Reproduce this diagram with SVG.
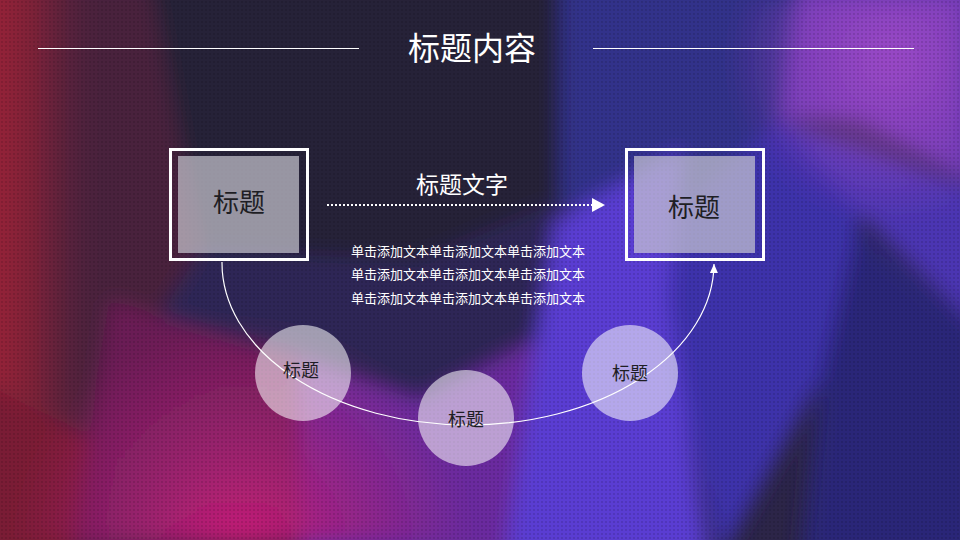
<svg xmlns="http://www.w3.org/2000/svg" width="960" height="540" viewBox="0 0 960 540">
<defs>
<style>
.cjk{font-family:"Noto Sans CJK SC","Microsoft YaHei",sans-serif;}
.wt{fill:#ffffff;}
.dk{fill:#1e1e24;}
.frame{fill:none;stroke:#ffffff;stroke-width:3;}
.inner{fill:#cfcdd6;fill-opacity:0.68;}
.bubble{fill:#ffffff;fill-opacity:0.55;}
.rule{stroke:#ffffff;stroke-width:1;}
</style>
<filter id="soft" x="-10%" y="-10%" width="120%" height="120%"><feGaussianBlur stdDeviation="10"/></filter>
<pattern id="dots" width="4" height="4" patternUnits="userSpaceOnUse"><circle cx="2" cy="2" r="0.9" fill="#000" fill-opacity="0.16"/></pattern>
<radialGradient id="pink" cx="240" cy="550" r="230" gradientUnits="userSpaceOnUse"><stop offset="0" stop-color="#cc1f78"/><stop offset="0.5" stop-color="#b0207a" stop-opacity="0.6"/><stop offset="1" stop-color="#b0207a" stop-opacity="0"/></radialGradient>
<radialGradient id="violet" cx="890" cy="60" r="160" gradientUnits="userSpaceOnUse"><stop offset="0" stop-color="#9a48c6"/><stop offset="1" stop-color="#9a48c6" stop-opacity="0"/></radialGradient>
<linearGradient id="redband" x1="0" y1="0" x2="1" y2="0"><stop offset="0" stop-color="#a2263a"/><stop offset="0.45" stop-color="#8a2038" stop-opacity="0.8"/><stop offset="1" stop-color="#5a1f3e" stop-opacity="0"/></linearGradient>
<marker id="ah" markerWidth="10" markerHeight="10" refX="9" refY="5" orient="auto" markerUnits="userSpaceOnUse"><path d="M0,1 L9,5 L0,9 Z" fill="#ffffff"/></marker>
</defs>
<g id="background">
<rect width="960" height="540" fill="#2c2548"/>
<g filter="url(#soft)">
<polygon points="-20,-20 190,-20 200,250 110,440 70,560 -20,560" fill="#48203c"/>
<polygon points="150,-20 600,-20 560,200 420,260 200,250" fill="#252337"/>
<polygon points="560,-20 820,-20 780,120 620,260 560,200" fill="#33308a"/>
<polygon points="800,-20 980,-20 980,190 860,120 780,120" fill="#6d3ab4"/>
<polygon points="780,120 980,190 980,330 860,215 760,200" fill="#4c36b2"/>
<polygon points="850,220 980,330 980,560 800,560 820,380" fill="#2a2878"/>
<polygon points="620,260 780,120 860,215 820,380 720,560 660,300" fill="#3d30aa"/>
<polygon points="200,250 420,260 560,200 555,330 420,400 300,360 150,330" fill="#2e2556"/>
<polygon points="110,300 300,360 420,470 300,560 70,560" fill="#6a1f55"/>
<polygon points="300,360 420,400 555,330 520,560 300,560" fill="#6a2c9e"/>
<polygon points="682,150 555,220 530,380 505,560 710,560 668,300" fill="#5a3ed2"/>
<rect x="-20" y="-20" width="120" height="580" fill="url(#redband)"/>
<polygon points="-20,380 90,440 70,560 -20,560" fill="#7a1c34"/>
<rect width="960" height="540" fill="url(#pink)"/>
<rect width="960" height="540" fill="url(#violet)"/>
</g>
<rect width="960" height="540" fill="url(#dots)"/>
</g>
<g id="title">
<line class="rule" x1="38" y1="48.5" x2="359" y2="48.5"/>
<line class="rule" x1="593" y1="48.5" x2="914" y2="48.5"/>
<text class="cjk wt" x="472" y="46" font-size="32" text-anchor="middle" dominant-baseline="central">标题内容</text>
</g>
<g id="connectors">
<line x1="327" y1="205" x2="592" y2="205" stroke="#ffffff" stroke-width="2" stroke-dasharray="2,2"/>
<polygon points="592,198 605,205 592,212" fill="#ffffff"/>
<path d="M222,262 A246,162 0 0 0 714,264" fill="none" stroke="#ffffff" stroke-width="1.2" marker-end="url(#ah)"/>
</g>
<g id="node-left">
<rect class="frame" x="170.5" y="149.5" width="137" height="110"/>
<rect class="inner" x="178" y="156" width="121" height="97"/>
<text class="cjk dk" x="239" y="200" font-size="26" text-anchor="middle" dominant-baseline="central">标题</text>
</g>
<g id="node-right">
<rect class="frame" x="626.5" y="149.5" width="137" height="110"/>
<rect class="inner" x="634" y="156" width="121" height="97"/>
<text class="cjk dk" x="694" y="205" font-size="26" text-anchor="middle" dominant-baseline="central">标题</text>
</g>
<g id="label-middle">
<text class="cjk wt" x="462" y="183" font-size="23" text-anchor="middle" dominant-baseline="central">标题文字</text>
<text class="cjk wt" x="468" y="250" font-size="13" text-anchor="middle" dominant-baseline="central">单击添加文本单击添加文本单击添加文本</text>
<text class="cjk wt" x="468" y="273" font-size="13" text-anchor="middle" dominant-baseline="central">单击添加文本单击添加文本单击添加文本</text>
<text class="cjk wt" x="468" y="297" font-size="13" text-anchor="middle" dominant-baseline="central">单击添加文本单击添加文本单击添加文本</text>
</g>
<g id="circle-1">
<circle class="bubble" cx="303" cy="373" r="48"/>
<text class="cjk dk" x="301" y="369" font-size="18" text-anchor="middle" dominant-baseline="central">标题</text>
</g>
<g id="circle-2">
<circle class="bubble" cx="466" cy="418" r="48"/>
<text class="cjk dk" x="466" y="418" font-size="18" text-anchor="middle" dominant-baseline="central">标题</text>
</g>
<g id="circle-3">
<circle class="bubble" cx="630" cy="373" r="48"/>
<text class="cjk dk" x="630" y="372" font-size="18" text-anchor="middle" dominant-baseline="central">标题</text>
</g>
</svg>
